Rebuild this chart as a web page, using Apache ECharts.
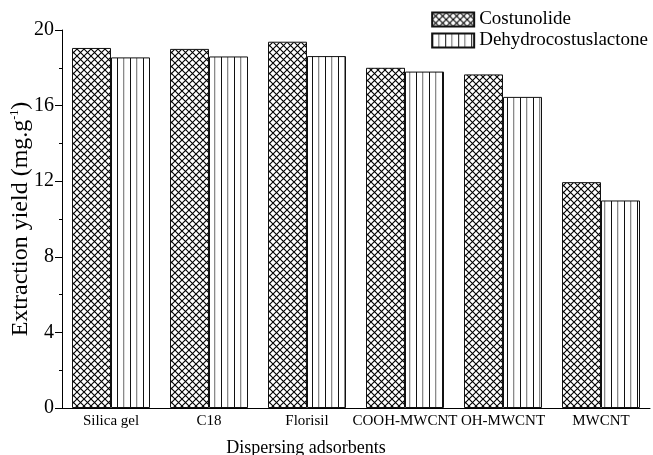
<!DOCTYPE html>
<html>
<head>
<meta charset="utf-8">
<script src="https://cdn.jsdelivr.net/npm/echarts@6/dist/echarts.min.js"></script>
<style>
  html, body { margin: 0; padding: 0; background: #fff; }
  #chart { width: 653px; height: 455px; }
</style>
</head>
<body>
<div id="chart"></div>
<script>
// data
const categories = ['Silica gel', 'C18', 'Florisil', 'COOH-MWCNT', 'OH-MWCNT', 'MWCNT'];
const costunolide = [19.05, 19.0, 19.38, 18.0, 17.65, 11.95];
const dehydrocostuslactone = [18.55, 18.6, 18.62, 17.8, 16.46, 10.98];
const yTicks = { min: 0, max: 20, interval: 4 };

const FONT = '"Liberation Serif", "Times New Roman", serif';

// cross hatch texture
function crossHatch() {
    const c = document.createElement('canvas');
    c.width = 7; c.height = 7;
    const ctx = c.getContext('2d');
    ctx.fillStyle = '#fff';
    ctx.fillRect(0, 0, 7, 7);
    ctx.strokeStyle = '#000';
    ctx.lineWidth = 1.1;
    ctx.beginPath();
    ctx.moveTo(-1, -1); ctx.lineTo(8, 8);
    ctx.moveTo(8, -1); ctx.lineTo(-1, 8);
    ctx.stroke();
    return c;
}

// vertical stripes, black and grey in turn
function vStripes() {
    const c = document.createElement('canvas');
    c.width = 13; c.height = 4;
    const ctx = c.getContext('2d');
    ctx.fillStyle = '#fff';
    ctx.fillRect(0, 0, 13, 4);
    ctx.fillStyle = '#111';
    ctx.fillRect(0, 0, 1, 4);
    ctx.fillStyle = '#8a8a8a';
    ctx.fillRect(6, 0, 1.3, 4);
    return c;
}

const chart = echarts.init(document.getElementById('chart'));

const barStyle = (img) => ({
    color: { image: img, repeat: 'repeat' },
    borderColor: '#111',
    borderWidth: 1
});

chart.setOption({
    animation: false,
    grid: { left: 62, right: 3, top: 30, bottom: 47, containLabel: false, outerBoundsMode: 'none' },
    legend: {
        orient: 'vertical',
        right: 0,
        top: 5,
        itemWidth: 42,
        itemHeight: 14,
        itemGap: 2,
        icon: 'rect',
        textStyle: { fontFamily: FONT, fontSize: 19, color: '#000', padding: [0, 0, 0, 0] },
        data: ['Costunolide', 'Dehydrocostuslactone']
    },
    xAxis: [{
        type: 'category',
        data: categories,
        position: 'bottom',
        axisLine: { lineStyle: { color: '#000', width: 1 } },
        axisTick: { alignWithLabel: true, length: 7, lineStyle: { color: '#000' } },
        axisLabel: { fontFamily: FONT, fontSize: 15, color: '#000', margin: 6, interval: 0 },
        name: 'Dispersing adsorbents',
        nameLocation: 'middle',
        nameGap: 31,
        nameMoveOverlap: false,
        nameTextStyle: { fontFamily: FONT, fontSize: 18, color: '#000', padding: [0, 100, 0, 0] }
    }, {
        type: 'category',
        data: categories,
        position: 'bottom',
        axisLine: { show: false },
        axisTick: { length: 4, lineStyle: { color: '#000' } },
        axisLabel: { show: false }
    }],
    yAxis: {
        type: 'value',
        min: yTicks.min,
        max: yTicks.max,
        interval: yTicks.interval,
        axisLine: { show: true, lineStyle: { color: '#000', width: 1 } },
        axisTick: { show: true, length: 7, lineStyle: { color: '#000' } },
        minorTick: { show: true, splitNumber: 2, length: 3, lineStyle: { color: '#000' } },
        splitLine: { show: false },
        axisLabel: { fontFamily: FONT, fontSize: 20, color: '#000', margin: 8 },
        name: '{a|Extraction yield (mg.g}{s|-1}{a|)}',
        nameLocation: 'middle',
        nameGap: 29,
        nameMoveOverlap: false,
        nameTextStyle: {
            rich: {
                a: { fontFamily: FONT, fontSize: 24, color: '#000' },
                s: { fontFamily: FONT, fontSize: 12, color: '#000', verticalAlign: 'top', padding: [0, 0, 11, 0] }
            }
        }
    },
    series: [{
        name: 'Costunolide',
        type: 'bar',
        data: costunolide,
        barWidth: 39,
        barGap: '0%',
        itemStyle: barStyle(crossHatch())
    }, {
        name: 'Dehydrocostuslactone',
        type: 'bar',
        data: dehydrocostuslactone,
        barWidth: 39,
        barGap: '0%',
        itemStyle: barStyle(vStripes())
    }]
});
</script>
</body>
</html>
